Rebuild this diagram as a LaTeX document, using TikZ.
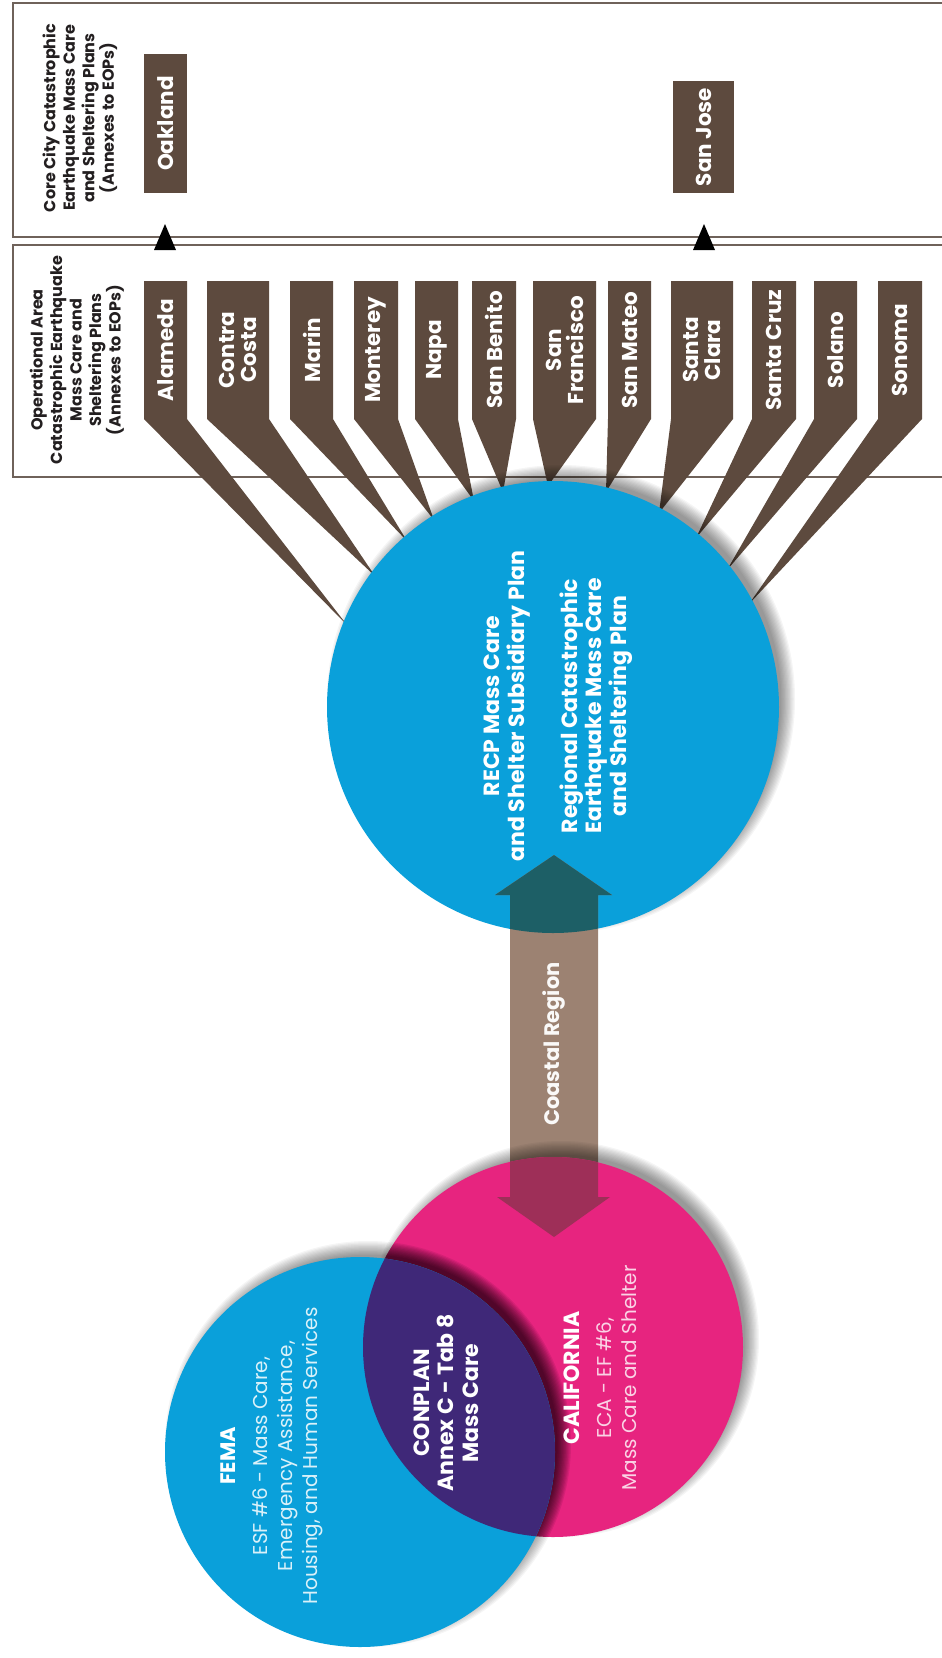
\documentclass[tikz,border=0pt]{standalone}
\usepackage{fontspec}
\setmainfont{Poppins}
\definecolor{bluec}{HTML}{0AA0DA}
\definecolor{pinkc}{HTML}{E7247F}
\definecolor{purplec}{HTML}{3F2878}
\definecolor{brownc}{HTML}{5D4A3E}
\definecolor{taupec}{HTML}{9C8272}
\definecolor{tealc}{HTML}{1D5F66}
\definecolor{rosec}{HTML}{9E2F58}
\definecolor{linec}{HTML}{6F625A}
\definecolor{inkc}{HTML}{231F20}
\newcommand\bandshape[4]{\fill[brownc] (#1,281) -- (#2,281) -- (#2,419) -- (#3,#4) -- (#1,419) -- cycle;}
\newcommand\softshadow[3]{\foreach \k in {0,...,11}{\fill[black,opacity=0.04] (#1+8,#2-8) circle[radius={#3+8-1.25*\k}];}}
\newcommand\arrowfill[1]{\fill[#1] (554,855) -- (612,895) -- (598,895) -- (598,1197) -- (610,1197) -- (554,1237) -- (497,1197) -- (510,1197) -- (510,895) -- (495,895) -- cycle;}
\begin{document}
\begin{tikzpicture}[x=1pt,y=-1pt,
  boxline/.style={draw=linec,line width=2.4pt},
  county/.style={rotate=90,align=center,text=white,inner sep=0pt,font=\fontsize{21.5}{22}\selectfont\bfseries},
  header/.style={rotate=90,align=center,text=inkc,inner sep=0pt,font=\fontsize{16}{19.5}\selectfont\bfseries},
  citybox/.style={fill=brownc,inner sep=0pt},
  tri/.style={fill=black},
  circtext/.style={rotate=90,align=center,text=white,inner sep=0pt,font=\fontsize{22}{24.5}\selectfont\bfseries},
  bodytext/.style={rotate=90,align=center,inner sep=0pt,font=\fontsize{20}{25}\selectfont}]
\useasboundingbox (0,0) rectangle (942,1658);
\fill[white] (0,0) rectangle (942,1658);
% plan boxes
\draw[boxline] (960,3) -- (13,3) -- (13,237) -- (960,237);
\draw[boxline] (960,245) -- (13,245) -- (13,477) -- (960,477);
\node[header] (corehead) at (80,118) {Core City Catastrophic\\Earthquake Mass Care\\and Sheltering Plans\\(Annexes to EOPs)};
\node[header] (ophead) at (77,360) {Operational Area\\Catastrophic Earthquake\\Mass Care and\\Sheltering Plans\\(Annexes to EOPs)};
% city boxes
\fill[citybox] (144,54) rectangle (187,193);
\node[county] (oakland) at (165.5,123.5) {Oakland};
\fill[citybox] (673,81) rectangle (734,193);
\node[county] (sanjose) at (703.5,137) {San Jose};
\coordinate (oaktip) at (165,224);
\coordinate (sjtip) at (704,224);
\fill[tri] (oaktip) -- ++(11,26) -- ++(-22,0) -- cycle;
\fill[tri] (sjtip) -- ++(11,26) -- ++(-22,0) -- cycle;
% county bands
\bandshape{144}{187}{347}{625}
\bandshape{207}{269}{375}{576}
\bandshape{290}{333}{407}{541}
\bandshape{354}{398}{434}{520}
\bandshape{415}{458}{474}{501}
\bandshape{472}{516}{503}{492}
\bandshape{533}{596}{548}{486}
\bandshape{608}{651}{606}{492}
\bandshape{671}{733}{659}{513}
\bandshape{752}{796}{696}{538}
\bandshape{814}{857}{727}{570}
\bandshape{878}{922}{749}{604}
\node[county] (alameda) at (165.5,350) {Alameda};
\node[county] (contra) at (238,350) {Contra\\Costa};
\node[county] (marin) at (311.5,350) {Marin};
\node[county] (monterey) at (376,350) {Monterey};
\node[county] (napa) at (436.5,350) {Napa};
\node[county] (benito) at (494,350) {San Benito};
\node[county] (francisco) at (564.5,350) {San\\Francisco};
\node[county] (mateo) at (629.5,350) {San Mateo};
\node[county] (clara) at (702,350) {Santa\\Clara};
\node[county] (cruz) at (774,350) {Santa Cruz};
\node[county] (solano) at (835.5,350) {Solano};
\node[county] (sonoma) at (900,350) {Sonoma};
% RECP circle
\softshadow{553}{707}{226}
\fill[bluec] (553,707) circle[radius=226];
% arrow
\arrowfill{taupec}
\begin{scope}
\clip (553,707) circle[radius=226];
\arrowfill{tealc}
\end{scope}
% California circle
\softshadow{553}{1347}{190}
\fill[pinkc] (553,1347) circle[radius=190];
\begin{scope}
\clip (553,1347) circle[radius=190];
\arrowfill{rosec}
\end{scope}
% FEMA circle
\begin{scope}
\clip (553,1347) circle[radius=190];
\softshadow{360}{1452}{195}
\end{scope}
\softshadow{360}{1452}{195}
\fill[bluec] (360,1452) circle[radius=195];
\begin{scope}
\clip (553,1347) circle[radius=190];
\fill[purplec] (360,1452) circle[radius=195];
\end{scope}
% texts
\node[circtext] (recp) at (507,706) {RECP Mass Care\\and Shelter Subsidiary Plan};
\node[circtext] (regional) at (596,706) {Regional Catastrophic\\Earthquake Mass Care\\and Sheltering Plan};
\node[rotate=90,text=white!95!taupec,inner sep=0pt,font=\fontsize{21}{24}\selectfont\bfseries] (coastal) at (554,1044) {Coastal Region};
\node[bodytext,text=white!85!bluec] (fema) at (272,1456) {{\fontsize{21}{25}\selectfont\bfseries\color{white}FEMA}\\[7pt]ESF \#6 - Mass Care,\\Emergency Assistance,\\Housing, and Human Services};
\node[circtext] (conplan) at (446,1403) {CONPLAN\\Annex C - Tab 8\\Mass Care};
\node[bodytext,text=white!80!pinkc] (california) at (600,1378) {{\fontsize{22}{25}\selectfont\bfseries\color{white}CALIFORNIA}\\[7pt]ECA - EF \#6,\\Mass Care and Shelter};
\end{tikzpicture}
\end{document}
